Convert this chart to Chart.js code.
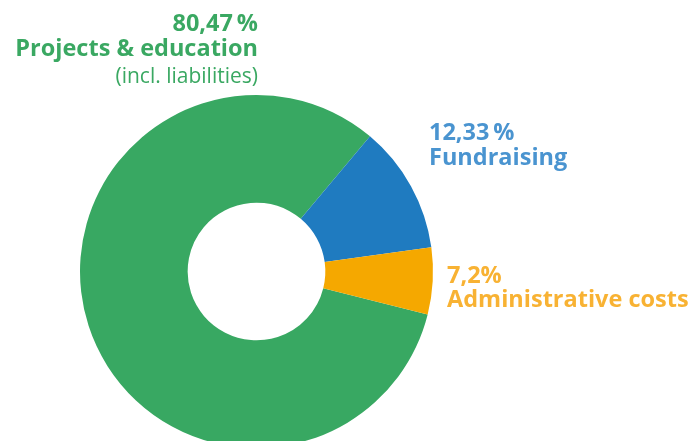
<!DOCTYPE html>
<html>
<head>
<meta charset="utf-8">
<script src="https://cdn.jsdelivr.net/npm/chart.js@4/dist/chart.umd.min.js"></script>
<style>
  html, body { margin: 0; padding: 0; background: #fff; overflow: hidden; }
  #wrap { position: absolute; left: 0; top: 0; width: 693px; height: 470px; }
</style>
</head>
<body>
<div id="wrap"><canvas id="myChart"></canvas></div>
<script>
// slice sizes as drawn (angles)
const categories = ['Projects & education', 'Fundraising', 'Administrative costs'];
const sliceValues = [82.2, 11.7, 6.1];
// label texts as printed
const percentLabels = ['80,47\u2009%', '12,33\u2009%', '7,2%'];
const subLabels = ['(incl. liabilities)', '', ''];
const sliceColors = ['#38a862', '#1f7bc0', '#f5a800'];
const textColors = ['#3aa862', '#4a94d0', '#f8b233'];

const labelPlugin = {
  id: 'sliceLabels',
  afterDraw(chart) {
    const ctx = chart.ctx;
    ctx.save();
    ctx.textBaseline = 'alphabetic';
    const bold = '700 23.5px "Open Sans"';
    // green, right aligned above the ring
    ctx.fillStyle = textColors[0];
    ctx.textAlign = 'right';
    ctx.font = bold;
    ctx.fillText(percentLabels[0], 258, 31);
    ctx.fillText(categories[0], 258, 56);
    ctx.font = '400 21px "Open Sans"';
    ctx.fillText(subLabels[0], 258, 83);
    // blue
    ctx.textAlign = 'left';
    ctx.font = bold;
    ctx.fillStyle = textColors[1];
    ctx.fillText(percentLabels[1], 429, 140);
    ctx.fillText(categories[1], 429, 165);
    // orange
    ctx.fillStyle = textColors[2];
    ctx.fillText(percentLabels[2], 447, 283);
    ctx.fillText(categories[2], 447, 307);
    ctx.restore();
  }
};

document.addEventListener('DOMContentLoaded', () => {
  const ctx = document.getElementById('myChart').getContext('2d');
  new Chart(ctx, {
    type: 'doughnut',
    data: {
      labels: categories,
      datasets: [{
        data: sliceValues,
        backgroundColor: sliceColors,
        borderWidth: 0
      }]
    },
    options: {
      responsive: true,
      maintainAspectRatio: false,
      animation: false,
      rotation: 104.1,
      cutout: '39%',
      layout: { padding: { left: 80, right: 260, top: 95, bottom: 22 } },
      plugins: {
        legend: { display: false },
        tooltip: { enabled: false }
      }
    },
    plugins: [labelPlugin]
  });
});
</script>
</body>
</html>
